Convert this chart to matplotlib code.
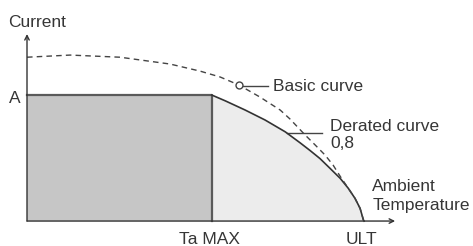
import numpy as np
import matplotlib
matplotlib.use('Agg')
from matplotlib import pyplot as plt

plt.rcParams['font.family'] = ['Liberation Sans', 'DejaVu Sans']

# temperature in % of ULT, current relative to A
ta_max = 54.8
ult = 100.0
current_a = 1.0

derated_x = [54.8, 58.8, 64.7, 70.6, 76.6, 81.0, 84.0, 86.9, 89.9, 92.9,
             95.3, 97.3, 98.8, 99.8, 100.0]
derated_y = [1.0, 0.954, 0.881, 0.802, 0.708, 0.621, 0.559, 0.496, 0.418, 0.339,
             0.260, 0.180, 0.101, 0.008, 0.0]

basic_x = [0.0, 12.8, 27.6, 42.4, 51.3, 57.3, 62.9, 69.1, 75.1, 78.0, 82.5,
           85.5, 88.4, 90.8, 92.9, 95.3, 97.3, 98.8, 99.8, 100.0]
basic_y = [1.30, 1.317, 1.30, 1.246, 1.19, 1.143, 1.079, 0.984, 0.881, 0.81, 0.683,
           0.603, 0.524, 0.444, 0.355, 0.260, 0.180, 0.101, 0.008, 0.0]
marker_idx = 6

x_labels = ['Ta MAX', 'ULT']
y_label = 'A'

line_col = '#444444'
text_col = '#363636'
fs = 12.5

fig = plt.figure(figsize=(4.73, 2.46), dpi=100)
ax = fig.add_axes([0, 0, 1, 1])
ax.set_xlim(-8.01, 132.3)
ax.set_ylim(-0.198, 1.754)
ax.axis('off')

# shaded areas
ax.fill_between([0, ta_max], 0, current_a, color='#c6c6c6', lw=0, zorder=1)
ax.fill_between(derated_x, 0, derated_y, color='#ececec', lw=0, zorder=1)
ax.plot([0, ta_max, ta_max], [current_a, current_a, 0], color='#5a5a5a', lw=1.6, zorder=2)

# curves
ax.plot(derated_x, derated_y, color='#333333', lw=1.2, zorder=3)
ax.plot(basic_x, basic_y, color=line_col, lw=1.0, dashes=(4, 3), zorder=3)
ax.plot(basic_x[marker_idx], basic_y[marker_idx], 'o', ms=5, mfc='white',
        mec=line_col, mew=1.0, zorder=4)

# axes with arrows
ax.annotate('', xy=(0, 1.484), xytext=(0, 0),
            arrowprops=dict(arrowstyle='->', color='#333333', lw=1.0,
                            shrinkA=0, shrinkB=0, mutation_scale=8))
ax.annotate('', xy=(109.2, 0), xytext=(0, 0),
            arrowprops=dict(arrowstyle='->', color='#333333', lw=1.0,
                            shrinkA=0, shrinkB=0, mutation_scale=8))

# leader lines
ax.plot([64.2, 71.5], [1.071, 1.071], color=line_col, lw=1.0)
ax.plot([77.2, 87.5], [0.698, 0.698], color=line_col, lw=1.0)

# labels
ax.text(-5.64, 1.54, 'Current', fontsize=fs, color=text_col, va='baseline')
ax.text(-3.7, 0.972, y_label, fontsize=fs, color=text_col, va='center', ha='center')
ax.text(ta_max - 0.8, -0.183, x_labels[0], fontsize=fs, color=text_col, ha='center', va='baseline')
ax.text(ult - 0.9, -0.183, x_labels[1], fontsize=fs, color=text_col, ha='center', va='baseline')
ax.text(73.0, 1.032, 'Basic curve', fontsize=fs, color=text_col, va='baseline')
ax.text(89.9, 0.714, 'Derated curve', fontsize=fs, color=text_col, va='baseline')
ax.text(89.9, 0.579, '0,8', fontsize=fs, color=text_col, va='baseline')
ax.text(102.4, 0.238, 'Ambient', fontsize=fs, color=text_col, va='baseline')
ax.text(102.4, 0.087, 'Temperature', fontsize=fs, color=text_col, va='baseline')

fig.savefig('out.png', dpi=100)
